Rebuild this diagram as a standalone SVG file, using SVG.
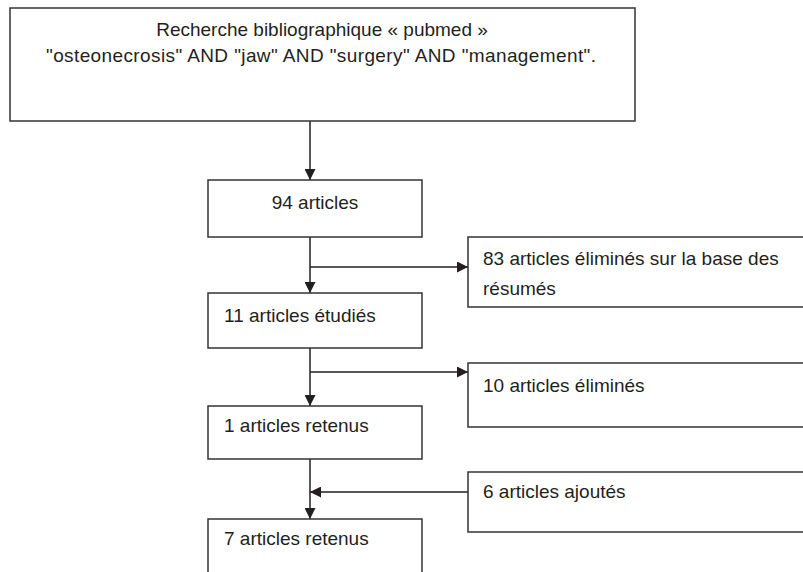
<svg xmlns="http://www.w3.org/2000/svg" width="803" height="572" viewBox="0 0 803 572">
<defs>
<style>
.box{fill:#fff;stroke:#333;stroke-width:1.5}
.t{font-family:"Liberation Sans",Arial,sans-serif;font-size:19px;fill:#231f20}
.c{text-anchor:middle}
.ln{fill:none;stroke:#231f20;stroke-width:1.5}
</style>
<marker id="ah" viewBox="0 0 10 10" refX="10" refY="5" markerWidth="11" markerHeight="11" markerUnits="userSpaceOnUse" orient="auto">
<path d="M0,0 L10,5 L0,10 Z" fill="#231f20"/>
</marker>
</defs>
<rect width="803" height="572" fill="#fff"/>
<g id="connectors">
<line class="ln" x1="310" y1="121" x2="310" y2="180" marker-end="url(#ah)"/>
<line class="ln" x1="310" y1="237" x2="310" y2="293" marker-end="url(#ah)"/>
<line class="ln" x1="310" y1="267" x2="468" y2="267" marker-end="url(#ah)"/>
<line class="ln" x1="310" y1="348" x2="310" y2="406" marker-end="url(#ah)"/>
<line class="ln" x1="310" y1="372" x2="468" y2="372" marker-end="url(#ah)"/>
<line class="ln" x1="310" y1="459" x2="310" y2="519" marker-end="url(#ah)"/>
<line class="ln" x1="468" y1="492" x2="310" y2="492" marker-end="url(#ah)"/>
</g>
<g id="n-search">
<rect class="box" x="10" y="8" width="625" height="113"/>
<text class="t c" x="322" y="36">Recherche bibliographique « pubmed »</text>
<text class="t c" x="321" y="62" textLength="550" lengthAdjust="spacing">"osteonecrosis" AND "jaw" AND "surgery" AND "management".</text>
</g>
<g id="n-94">
<rect class="box" x="208" y="180" width="214" height="57"/>
<text class="t c" x="315" y="209">94 articles</text>
</g>
<g id="n-83">
<rect class="box" x="468" y="237" width="345" height="70"/>
<text class="t" x="483" y="265">83 articles éliminés sur la base des</text>
<text class="t" x="483" y="295">résumés</text>
</g>
<g id="n-11">
<rect class="box" x="208" y="293" width="214" height="55"/>
<text class="t" x="224" y="322">11 articles étudiés</text>
</g>
<g id="n-10">
<rect class="box" x="468" y="363" width="345" height="64"/>
<text class="t" x="483" y="392">10 articles éliminés</text>
</g>
<g id="n-1">
<rect class="box" x="208" y="406" width="214" height="53"/>
<text class="t" x="224" y="432">1 articles retenus</text>
</g>
<g id="n-6">
<rect class="box" x="468" y="472" width="345" height="60"/>
<text class="t" x="483" y="498">6 articles ajoutés</text>
</g>
<g id="n-7">
<rect class="box" x="208" y="519" width="214" height="70"/>
<text class="t" x="224" y="545">7 articles retenus</text>
</g>
</svg>
